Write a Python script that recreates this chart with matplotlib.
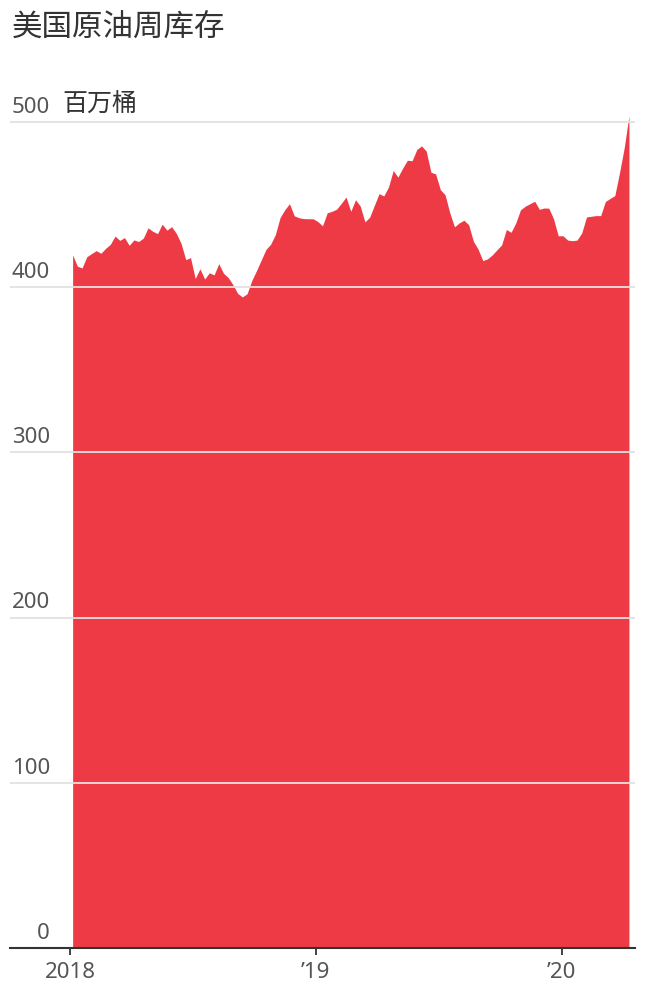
import pandas as pd
import matplotlib
matplotlib.use("Agg")
import matplotlib.pyplot as plt

plt.rcParams["font.family"] = ["Noto Sans CJK SC", "DejaVu Sans"]
latin = ["Noto Sans", "Noto Sans CJK SC"]

# Weekly US crude oil inventories, million barrels
start_week = "2018-01-05"
stocks = [
    # 2018
    419.5, 412.7, 411.6, 418.4, 420.3, 422.1, 420.5, 423.5, 425.9, 430.9,
    428.3, 430.0, 425.3, 428.6, 427.6, 429.7, 435.9, 433.8, 432.4, 438.1,
    434.5, 436.6, 432.5, 426.5, 416.6, 417.9, 405.2, 411.1, 404.9, 408.7,
    407.4, 414.2, 408.4, 405.8, 401.5, 396.2, 394.1, 396.0, 404.0, 410.0,
    416.4, 422.8, 426.0, 431.8, 442.1, 446.9, 450.5, 443.2, 442.0, 441.5,
    441.4, 441.4,
    # 2019
    439.7, 437.1, 445.0, 445.9, 447.2, 450.8, 454.5, 445.9, 452.9, 449.1,
    439.5, 442.3, 449.5, 456.6, 455.2, 460.6, 470.6, 466.6, 472.0, 476.8,
    476.5, 483.3, 485.5, 482.4, 469.6, 468.5, 459.0, 455.9, 445.0, 436.5,
    438.9, 440.5, 437.8, 427.8, 423.0, 416.1, 417.1, 419.5, 422.6, 425.6,
    434.9, 433.2, 438.9, 446.8, 449.0, 450.5, 452.0, 447.1, 447.9, 447.8,
    441.4, 431.1,
    # 2020
    431.1, 428.5, 428.1, 428.5, 432.9, 442.5, 442.9, 443.3, 443.3, 451.8,
    453.7, 455.4, 469.2, 484.4, 503.6,
]
weeks = pd.date_range(start_week, periods=len(stocks), freq="7D")

title = "美国原油周库存"
unit = "百万桶"
y_ticks = [0, 100, 200, 300, 400, 500]
x_ticks = ["2018-01-01", "2019-01-01", "2020-01-01"]
x_labels = ["2018", "\u201919", "\u201920"]

fill_color = "#ed3a45"
grid_color = "#e2e2e2"
text_dark = "#333333"
text_gray = "#555555"

fig = plt.figure(figsize=(6.5, 9.89), dpi=100)
ax = fig.add_axes([10 / 650, 41 / 989, 625 / 650, 859.1 / 989])

ax.fill_between(weeks, stocks, 0, color=fill_color, lw=0, zorder=2)

ax.set_xlim(pd.Timestamp("2017-10-04"), pd.Timestamp("2020-04-19"))
ax.set_ylim(0, 520)

# horizontal gridlines drawn over the area, labels sit above them
for v in y_ticks[1:]:
    ax.axhline(v, color=grid_color, lw=1.3, zorder=3)
for v in y_ticks:
    ax.annotate(str(v), xy=(40 / 625, v), xycoords=("axes fraction", "data"),
                xytext=(0, 3), textcoords="offset points",
                ha="right", va="bottom", fontsize=16, color=text_gray,
                family=latin, zorder=4)
ax.annotate(unit, xy=(52 / 625, 500), xycoords=("axes fraction", "data"),
            xytext=(0, 3), textcoords="offset points",
            ha="left", va="bottom", fontsize=18, color=text_dark, zorder=4)

ax.set_yticks([])
ax.set_xticks(pd.to_datetime(x_ticks))
ax.set_xticklabels(x_labels, family=latin)
ax.tick_params(axis="x", length=5, width=1.3, color=text_dark, pad=5,
               labelsize=16, labelcolor=text_gray)

for side in ["left", "right", "top"]:
    ax.spines[side].set_visible(False)
ax.spines["bottom"].set_color(text_dark)
ax.spines["bottom"].set_linewidth(1.5)
ax.spines["bottom"].set_zorder(5)

fig.text(12 / 650, 1 - 27 / 989, title, ha="left", va="center",
         fontsize=22, color=text_dark)

fig.savefig("out.png", dpi=100)
